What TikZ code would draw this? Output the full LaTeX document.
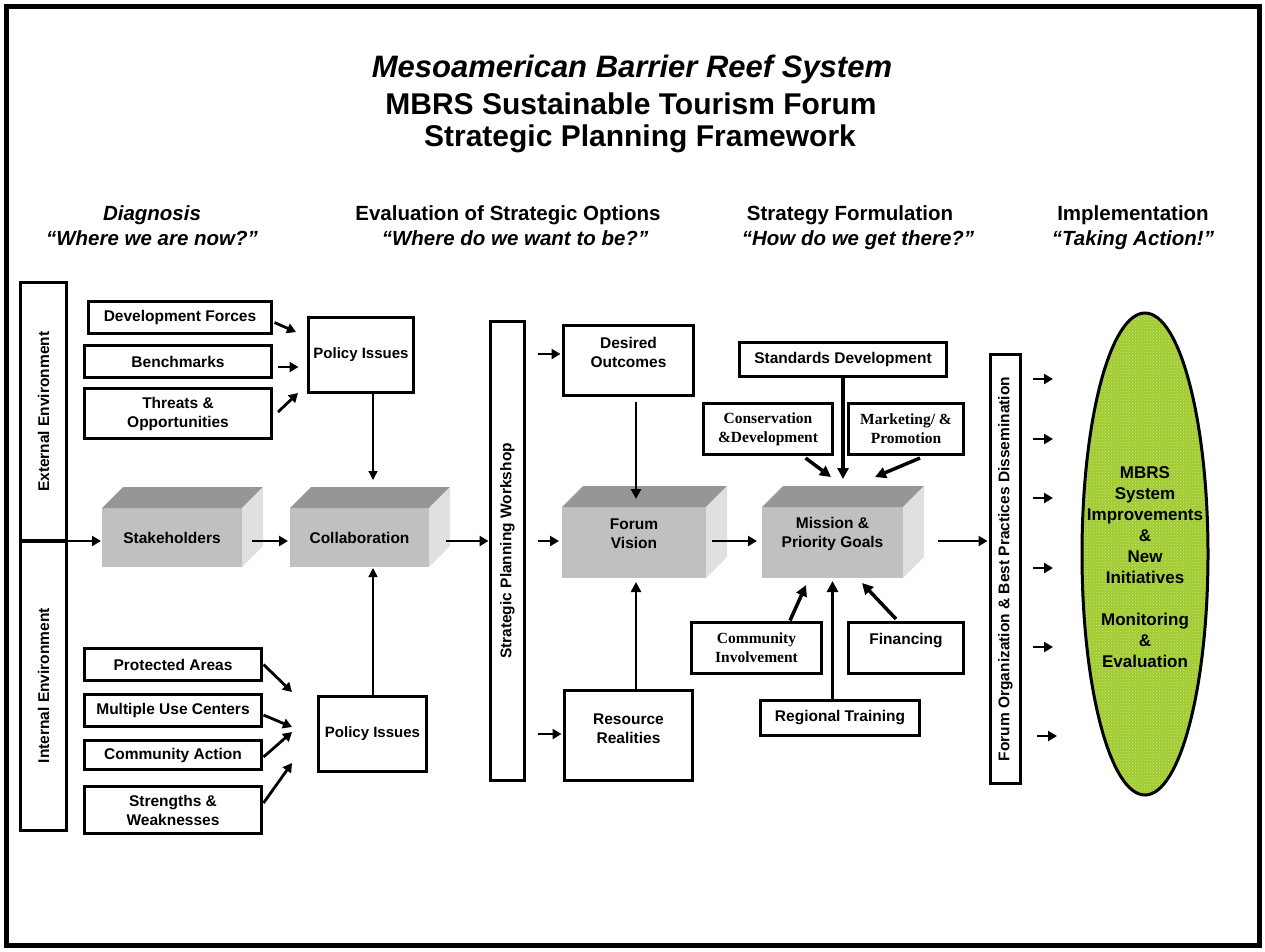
\documentclass[tikz,border=0pt]{standalone}
\usepackage{fontspec}
\setmainfont{Liberation Sans}
\newfontfamily\tnr{Liberation Serif}
\usetikzlibrary{arrows.meta,shapes.geometric,patterns,calc}
\definecolor{cfront}{RGB}{192,192,192}
\definecolor{ctop}{RGB}{150,150,150}
\definecolor{cside}{RGB}{224,224,224}
\definecolor{cell}{RGB}{160,202,48}
\definecolor{cdot}{RGB}{205,232,130}
\newcommand\fsz{\fontsize{15.5}{19}\selectfont\bfseries}
\newcommand\fpol{\fontsize{15}{18}\selectfont\bfseries}
\newcommand\fhead{\fontsize{20.5}{24}\selectfont\bfseries}
\newcommand\ftitle{\fontsize{30}{34}\selectfont\bfseries}
\newcommand\cubefaces[2]{%
  \fill[ctop] (#1.north west) -- ++(#2,-#2) -- ($(#1.north east)+(#2,-#2)$) -- (#1.north east) -- cycle;
  \fill[cside] (#1.north east) -- ++(#2,-#2) -- ($(#1.south east)+(#2,-#2)$) -- (#1.south east) -- cycle;}
\begin{document}
\begin{tikzpicture}[x=1pt,y=-1pt,
  every node/.style={inner sep=0pt,outer sep=0pt},
  sbox/.style={draw,line width=3.2pt,fill=white,align=center,font=\fsz},
  tbox/.style={sbox,font=\tnr\fsz},
  pbox/.style={sbox,line width=2.6pt,font=\fpol},
  front/.style={fill=cfront,align=center,font=\fsz},
  txt/.style={align=center,font=\fsz},
  arr/.style={line width=2.8pt,-{Triangle[length=9pt,width=10pt]}},
  arrM/.style={line width=3.5pt,-{Triangle[length=11pt,width=11pt]}},
  arrV/.style={line width=2.6pt,-{Triangle[length=10pt,width=10pt]}},
  arrT/.style={line width=1.5pt,-{Triangle[length=9pt,width=9pt]}}]
\useasboundingbox (0,0) rectangle (1265,951);
\draw[line width=5pt] (6,6) rectangle (1259,945);
% titles
\node[font=\fontsize{31}{34}\selectfont\bfseries\itshape,anchor=base] (t1) at (632,77) {Mesoamerican Barrier Reef System};
\node[font=\ftitle,anchor=base] (t2) at (631,114) {MBRS Sustainable Tourism Forum};
\node[font=\ftitle,anchor=base] (t3) at (640,146) {Strategic Planning Framework};
% headings
\node[font=\fhead\itshape,anchor=base] (h1a) at (152,220) {Diagnosis};
\node[font=\fhead\itshape,anchor=base] (h1b) at (152,245) {“Where we are now?”};
\node[font=\fhead,anchor=base] (h2a) at (508,220) {Evaluation of Strategic Options};
\node[font=\fhead\itshape,anchor=base] (h2b) at (515,245) {“Where do we want to be?”};
\node[font=\fhead,anchor=base] (h3a) at (850,220) {Strategy Formulation};
\node[font=\fhead\itshape,anchor=base] (h3b) at (858,245) {“How do we get there?”};
\node[font=\fhead,anchor=base] (h4a) at (1133,220) {Implementation};
\node[font=\fhead\itshape,anchor=base] (h4b) at (1133,245) {“Taking Action!”};
% environment boxes
\node[sbox,rotate=90,minimum width=258.4,minimum height=46] (ext) at (43.5,411.8) {External Environment};
\node[sbox,rotate=90,minimum width=289.4,minimum height=46] (int) at (43.5,685.7) {Internal Environment};
% left top group
\node[sbox,minimum width=183,minimum height=32] (devf) at (180,317.5) {Development Forces};
\node[sbox,minimum width=187,minimum height=32] (bench) at (178,361.5) {Benchmarks};
\node[sbox,minimum width=187,minimum height=50] (threat) at (178,413.5) {Threats \&\\Opportunities};
\node[pbox,minimum width=105,minimum height=75] (pol1) at (361,355) {Policy Issues};
% left bottom group
\node[sbox,minimum width=177,minimum height=32] (prot) at (173,664.5) {Protected Areas};
\node[sbox,minimum width=177,minimum height=32] (multi) at (173,710.5) {Multiple Use Centers};
\node[sbox,minimum width=177,minimum height=29] (comm) at (173,755) {Community Action};
\node[sbox,minimum width=177,minimum height=47] (str) at (173,810) {Strengths \&\\Weaknesses};
\node[pbox,minimum width=108,minimum height=75] (pol2) at (372.5,734) {Policy Issues};
% cubes
\node[front,minimum width=140,minimum height=59] (stake) at (172,537.5) {Stakeholders};
\cubefaces{stake}{21}
\node[front,minimum width=139,minimum height=59] (collab) at (359.5,537.5) {Collaboration};
\cubefaces{collab}{21}
\node[front,minimum width=144,minimum height=71] (forum) at (634,542.5) {};
\cubefaces{forum}{21}
\node[txt] (forumt) at (634,533.5) {Forum\\Vision};
\node[front,minimum width=141,minimum height=71] (mission) at (832.5,542.5) {};
\cubefaces{mission}{21}
\node[txt] (missiont) at (832.5,533.5) {Mission \&\\Priority Goals};
% workshop bar
\node[sbox,rotate=90,minimum width=459,minimum height=34] (ws) at (507.5,551) {Strategic Planning Workshop};
% middle boxes
\node[sbox,minimum width=130,minimum height=70] (desired) at (628.5,360.5) {};
\node[txt] (desiredt) at (628.5,352.5) {Desired\\Outcomes};
\node[sbox,minimum width=128,minimum height=90] (res) at (628.5,735.5) {};
\node[txt] (rest) at (628.5,728.5) {Resource\\Realities};
% strategy boxes
\node[sbox,minimum width=207,minimum height=34] (stand) at (843,359.5) {Standards Development};
\node[tbox,minimum width=129,minimum height=51] (cons) at (768,429) {Conservation\\\&Development};
\node[tbox,minimum width=115,minimum height=51] (mark) at (906,429) {Marketing/ \&\\Promotion};
\node[tbox,minimum width=130,minimum height=51] (cinv) at (756.5,648) {Community\\Involvement};
\node[sbox,minimum width=115,minimum height=51] (fin) at (906,648) {};
\node[txt] (fint) at (906,641) {Financing};
\node[sbox,minimum width=159,minimum height=35] (reg) at (840,718) {Regional Training};
% right bar
\node[sbox,rotate=90,minimum width=429,minimum height=30] (rb) at (1005.5,569) {Forum Organization \& Best Practices Dissemination};
% ellipse
\node[ellipse,draw,line width=3pt,preaction={fill=cell},pattern=crosshatch dots,pattern color=cdot,minimum width=126,minimum height=482] (ell) at (1145,554) {};
\node[align=center,font=\fontsize{17}{21}\selectfont\bfseries] (ellt) at (1145,567.5) {MBRS\\System\\Improvements\\\&\\New\\Initiatives\\~\\Monitoring\\\&\\Evaluation};
% helper coordinates
\coordinate (envL) at (19,541);
\coordinate (yE) at (0,541);
\coordinate (yD) at (0,354);
\coordinate (yR) at (0,734);
\coordinate (xP) at (373,0);
\coordinate (xF) at (636,0);
% main flow
\draw[arr] (envL) -- ($(envL -| stake.west)+(-1,0)$);
\draw[arr] ($(stake.east |- yE)+(10,0)$) -- ($(collab.west |- yE)+(-2,0)$);
\draw[arr] ($(collab.east |- yE)+(17,0)$) -- ($(ws.north |- yE)+(-2,0)$);
\draw[arr] ($(ws.south |- yD)+(13,0)$) -- ($(desired.west |- yD)+(-3,0)$);
\draw[arr] ($(ws.south |- yE)+(13,0)$) -- ($(forum.west |- yE)+(-3,0)$);
\draw[arr] ($(ws.south |- yR)+(13,0)$) -- ($(res.west |- yR)+(-3,0)$);
\draw[arrV] ($(desired.south -| xF)+(0,6)$) -- ($(forum.north -| xF)+(0,-8)$);
\draw[arrV] (res.north -| xF) -- ($(forum.south -| xF)+(0,4)$);
\draw[arr] ($(forum.east |- yE)+(6,0)$) -- ($(mission.west |- yE)+(-5,0)$);
\draw[arr] ($(mission.east |- yE)+(35,0)$) -- ($(rb.north |- yE)+(-3,0)$);
% mission connectors
\draw[arrM] (stand.south) -- ($(stand.south |- mission.north)+(0,-28)$);
\draw[arrM] ($(cons.south east)+(-27,3.5)$) -- ($(mission.north)+(-1.5,-30)$);
\draw[arrM] ($(mark.south)+(14,3.5)$) -- ($(mission.north)+(42.5,-30)$);
\draw[arrM] ($(cinv.north)+(33.5,-2)$) -- ($(mission.south)+(-26.5,7)$);
\draw[arrM] (mission.south |- reg.north) -- ($(mission.south)+(0,3)$);
\draw[arrM] ($(fin.north)+(-10,-3.5)$) -- ($(mission.south)+(29.5,5)$);
% left arrows
\draw[arr] ($(devf.east)+(3,5)$) -- ($(pol1.west)+(-12.5,-23)$);
\draw[arr] ($(bench.east)+(6,5.5)$) -- ($(pol1.west)+(-10,12)$);
\draw[arr] ($(threat.east)+(6.5,-1.5)$) -- ($(pol1.west)+(-10.5,38)$);
\draw[arr] ($(prot.east)+(2,0)$) -- ($(pol2.west)+(-26.5,-42)$);
\draw[arr] ($(multi.east)+(2,4.5)$) -- ($(pol2.west)+(-26.5,-7)$);
\draw[arr] ($(comm.east)+(2,2)$) -- ($(pol2.west)+(-26.5,-2)$);
\draw[arr] ($(str.east)+(2,-7)$) -- ($(pol2.west)+(-26.5,29)$);
% policy connectors
\draw[arrT] (pol1.south -| xP) -- ($(collab.north -| xP)+(0,-28)$);
\draw[arrT] (pol2.north -| xP) -- ($(collab.south -| xP)+(0,1)$);
% right small arrows
\foreach \yy/\dx in {379/0,439/0,498/0,568/0,647/0,736/4}
  \draw[arr] ($(rb.south |- 0,\yy)+(12.5+\dx,0)$) -- ++(20,0);
\end{tikzpicture}
\end{document}
